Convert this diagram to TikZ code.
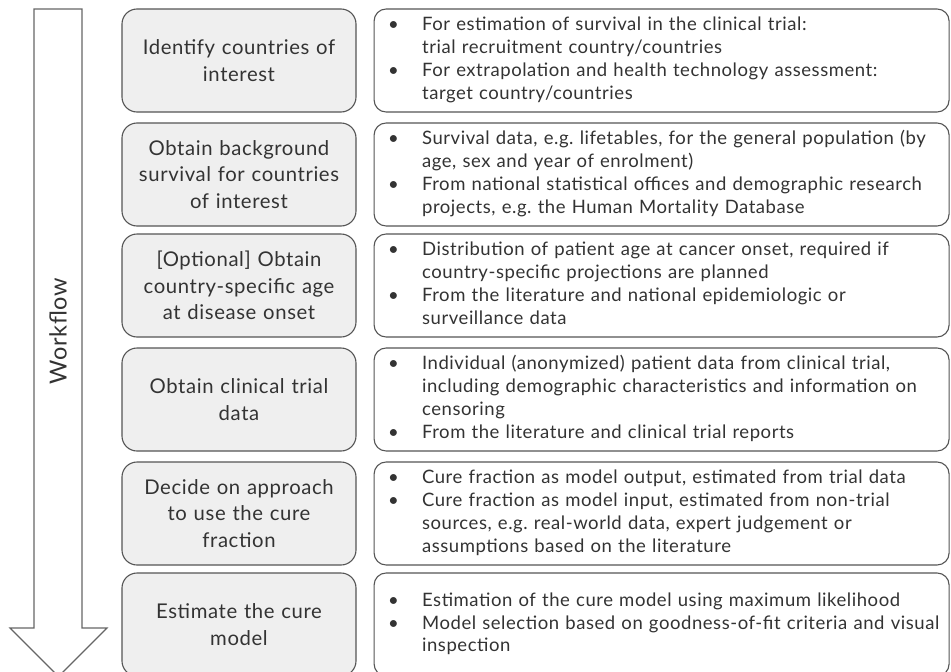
\documentclass[tikz,border=0pt]{standalone}
\usepackage{fontspec}
\setmainfont[LetterSpace=3.0]{Lato}
\usetikzlibrary{positioning}
\frenchspacing

\definecolor{ink}{HTML}{333333}
\definecolor{edge}{HTML}{555555}
\definecolor{stagefill}{HTML}{EFEFEF}

\tikzset{
	stage/.style={draw=edge, line width=1.1pt, fill=stagefill, rounded corners=15pt,
		minimum width=234pt, minimum height=103pt, text width=226pt, align=center,
		inner sep=0pt, text=ink, font=\fontsize{20.3}{26.5}\selectfont},
	notes/.style={draw=edge, line width=1.1pt, fill=white, rounded corners=12pt,
		minimum width=575pt, minimum height=103pt, text width=547pt, align=left,
		inner xsep=14pt, inner ysep=0pt, text=ink, font=\fontsize{18.5}{22.8}\selectfont},
	flow/.style={draw=edge!90, line width=1.1pt, fill=white}
}
\newcommand{\bul}{\textbullet}
\newenvironment{pts}{\begin{tabular}{@{}p{34pt}@{}l@{}}}{\end{tabular}}

\begin{document}
\begin{tikzpicture}[x=1pt,y=-1pt]
	\useasboundingbox (0,0) rectangle (951,672);
	% big arrow on the left
	\draw [flow] (34,9) -- (82,9) -- (82,628) -- (107,628) -- (58.5,676.5) -- (10,628) -- (34,628) -- cycle;
	\node (flowlabel) [rotate=90, text=ink, font=\fontsize{23.5}{26}\selectfont] at (58,331) {Workflow};

	% steps
	\node (ident) [stage] at (239,60.5) {Identify countries of\\interest};
	\node (backg) [stage] at (239,174.5) {Obtain background\\survival for countries\\of interest};
	\node (onset) [stage] at (239,285.5) {[Optional] Obtain\\country-specific age\\at disease onset};
	\node (trial) [stage] at (239,399.5) {Obtain clinical trial\\data};
	\node (cure) [stage] at (239,513.5) {Decide on approach\\to use the cure\\fraction};
	\node (model) [stage] at (239,624.5) {Estimate the cure\\model};

	% details
	\node (identinfo) [notes, right=17pt of ident] {\begin{pts}
		\bul & For estimation of survival in the clinical trial:\\
		& trial recruitment country/countries\\
		\bul & For extrapolation and health technology assessment:\\
		& target country/countries
	\end{pts}};
	\node (backginfo) [notes, right=17pt of backg] {\begin{pts}
		\bul & Survival data, e.g. lifetables, for the general population (by\\
		& age, sex and year of enrolment)\\
		\bul & From national statistical offices and demographic research\\
		& projects, e.g. the Human Mortality Database
	\end{pts}};
	\node (onsetinfo) [notes, right=17pt of onset] {\begin{pts}
		\bul & Distribution of patient age at cancer onset, required if\\
		& country-specific projections are planned\\
		\bul & From the literature and national epidemiologic or\\
		& surveillance data
	\end{pts}};
	\node (trialinfo) [notes, right=17pt of trial] {\begin{pts}
		\bul & Individual (anonymized) patient data from clinical trial,\\
		& including demographic characteristics and information on\\
		& censoring\\
		\bul & From the literature and clinical trial reports
	\end{pts}};
	\node (cureinfo) [notes, right=17pt of cure] {\begin{pts}
		\bul & Cure fraction as model output, estimated from trial data\\
		\bul & Cure fraction as model input, estimated from non-trial\\
		& sources, e.g. real-world data, expert judgement or\\
		& assumptions based on the literature
	\end{pts}};
	\node (modelinfo) [notes, right=17pt of model] {\begin{pts}
		\bul & Estimation of the cure model using maximum likelihood\\
		\bul & Model selection based on goodness-of-fit criteria and visual\\
		& inspection
	\end{pts}};
\end{tikzpicture}
\end{document}
